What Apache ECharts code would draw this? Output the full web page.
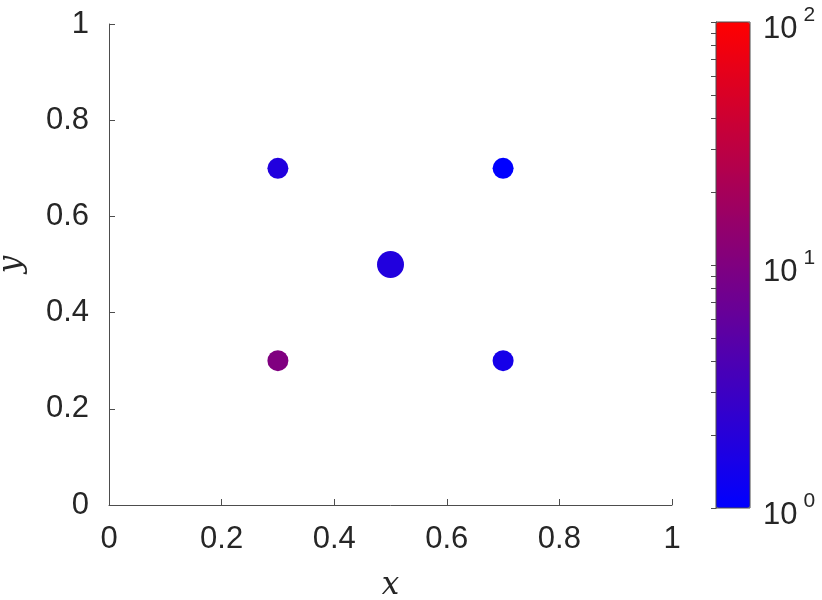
<!DOCTYPE html>
<html>
<head>
<meta charset="utf-8">
<script src="https://cdn.jsdelivr.net/npm/echarts@6/dist/echarts.min.js"></script>
<style>
    html, body { margin: 0; padding: 0; background: #fff; }
    #main { width: 822px; height: 600px; }
</style>
</head>
<body>
<div id="main"></div>
<script>
// data
var xValues = [0.3, 0.7, 0.5, 0.3, 0.7];
var yValues = [0.7, 0.7, 0.5, 0.3, 0.3];
var colorValues = [1.8, 1, 1.8, 10, 1.5];
var markerSizes = [21, 21, 27, 21, 21];
var axisTicks = [0, 0.2, 0.4, 0.6, 0.8, 1];
var colorbarExponents = [0, 1, 2];
var colorbarMinor = [1, 2, 3, 4, 5, 6, 7, 8, 9, 10, 20, 30, 40, 50, 60, 70, 80, 90, 100];

var Control = {
    Load: function () {
        var me = Control;
        var aChart = echarts.init(document.getElementById("main"));
        var aData = [];
        for (var i = 0; i < xValues.length; i++) {
            aData.push([xValues[i], yValues[i], Math.log10(colorValues[i]), markerSizes[i]]);
        }
        var aMinor = colorbarMinor.map(function (v) { return Math.log10(v); });
        var aFont = "Liberation Sans";
        var aText = "#262626";
        var aLine = "#4d4d4d";
        var aAxis = {
            type: "value", min: 0, max: 1, interval: 0.2,
            axisLine: { show: true, lineStyle: { color: aLine, width: 1 } },
            axisTick: { show: true, inside: true, length: 6, lineStyle: { color: aLine } },
            splitLine: { show: false },
            axisLabel: {
                fontFamily: aFont, fontSize: 31, color: aText,
                customValues: axisTicks,
                formatter: function (v) { return String(+v.toFixed(1)); }
            },
            nameLocation: "middle",
            nameTextStyle: { fontFamily: "DejaVu Serif", fontStyle: "italic", fontSize: 31, color: aText }
        };
        var aOption = {
            animation: false,
            backgroundColor: "#fff",
            grid: [
                { left: 109, top: 24, right: 150, bottom: 95, outerBoundsMode: "none", containLabel: false },
                { left: 716, top: 22, width: 34, height: 486, show: true, z: 10,
                  outerBoundsMode: "none", containLabel: false,
                  backgroundColor: "transparent", borderColor: aLine, borderWidth: 1 }
            ],
            xAxis: [
                echarts.util.merge({ gridIndex: 0, name: "x", nameGap: 65,
                    axisLabel: { margin: 19 } }, aAxis, true),
                { gridIndex: 1, type: "value", min: 0, max: 1, show: false }
            ],
            yAxis: [
                echarts.util.merge({ gridIndex: 0, name: "y", nameGap: 82,
                    axisLabel: { margin: 20 } }, aAxis, true),
                {
                    gridIndex: 1, type: "value", min: 0, max: 2, interval: 1, position: "right",
                    axisLine: { show: true, lineStyle: { color: aLine } },
                    axisTick: { show: true, inside: true, length: 5, customValues: aMinor,
                        lineStyle: { color: aLine } },
                    splitLine: { show: false },
                    axisLabel: {
                        margin: 13,
                        padding: [6, 0, 0, 0],
                        customValues: colorbarExponents,
                        formatter: function (v) { return "{b|10}{s|" + v + "}"; },
                        rich: {
                            b: { fontFamily: aFont, fontSize: 31, lineHeight: 40, color: aText, verticalAlign: "bottom" },
                            s: { fontFamily: aFont, fontSize: 21, lineHeight: 21, color: aText, verticalAlign: "top", padding: [0, 0, 0, 6] }
                        }
                    }
                }
            ],
            visualMap: {
                type: "continuous", show: true, seriesIndex: 0, dimension: 2,
                min: 0, max: 2, calculable: false, orient: "vertical",
                left: 716, top: 22, itemWidth: 34, itemHeight: 486, padding: 0,
                text: null, showLabel: false, hoverLink: false,
                inRange: { color: ["#0000ff", "#ff0000"] }
            },
            series: [{
                type: "scatter", xAxisIndex: 0, yAxisIndex: 0,
                data: aData,
                symbolSize: function (d) { return d[3]; },
                itemStyle: { opacity: 1 }
            }]
        };
        aChart.setOption(aOption);
    }
};
Control.Load();
</script>
</body>
</html>
